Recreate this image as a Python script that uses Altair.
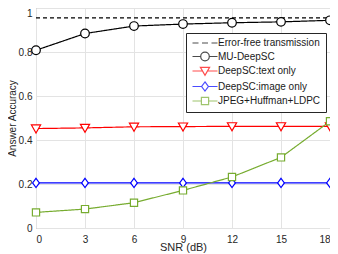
import altair as alt
import pandas as pd

snr = [0, 3, 6, 9, 12, 15, 18]
error_free = [0.955, 0.955, 0.955, 0.955, 0.955, 0.955, 0.955]
mu_deepsc = [0.808, 0.884, 0.918, 0.927, 0.933, 0.937, 0.944]
text_only = [0.452, 0.455, 0.460, 0.461, 0.462, 0.462, 0.462]
image_only = [0.205, 0.205, 0.205, 0.205, 0.205, 0.205, 0.205]
jpeg = [0.071, 0.086, 0.115, 0.171, 0.232, 0.321, 0.485]

series_names = ["Error-free transmission", "MU-DeepSC", "DeepSC:text only",
                "DeepSC:image only", "JPEG+Huffman+LDPC"]
series_values = [error_free, mu_deepsc, text_only, image_only, jpeg]

rows = []
for name, vals in zip(series_names, series_values):
    for s, v in zip(snr, vals):
        rows.append({"snr": s, "acc": v, "series": name})
df = pd.DataFrame(rows)

# styles
colors = ["#000000", "#000000", "#ff0000", "#0000ff", "#77ac30"]
dashes = [[4, 3], [1, 0], [1, 0], [1, 0], [1, 0]]
marker_paths = {
    "MU-DeepSC": "M4.3,0A4.3,4.3,0,1,1,-4.3,0A4.3,4.3,0,1,1,4.3,0Z",
    "DeepSC:text only": "M-4.6,-3.6L4.6,-3.6L0,4.4Z",
    "DeepSC:image only": "M0,-4.6L3.4,0L0,4.6L-3.4,0Z",
    "JPEG+Huffman+LDPC": "M-3.6,-3.6H3.6V3.6H-3.6Z",
}
marker_series = series_names[1:]
marker_range = [marker_paths[n] for n in marker_series]

half = 12.5
gaps = {"MU-DeepSC": 4.3, "DeepSC:text only": 3.0,
        "DeepSC:image only": 3.4, "JPEG+Huffman+LDPC": 3.6}
dashed_symbol = "M-12.5,0H-6.5M-3,0H3M6.5,0H12.5"
legend_range = [dashed_symbol] + [
    f"M-{half},0H-{gaps[n]}M{gaps[n]},0H{half}" + marker_paths[n]
    for n in marker_series
]

FONT = "Liberation Sans"
PLOT_LEFT = 36

legend = alt.Legend(
    title=None,
    orient="none",
    legendX=186 - PLOT_LEFT,
    legendY=25,
    symbolSize=4,
    symbolOffset=9,
    labelOffset=8,
    symbolStrokeWidth=1.2,
    labelFont=FONT,
    labelFontSize=10,
    labelColor="#1a1a1a",
    rowPadding=1.5,
    padding=5,
    fillColor="#ffffff",
    strokeColor="#262626",
)

x_enc = alt.X("snr:Q", scale=alt.Scale(domain=[0, 18], nice=False),
              axis=alt.Axis(values=snr, title="SNR (dB)", titleY=19,
                            titleBaseline="middle", titleFontSize=11))
y_enc = alt.Y("acc:Q", scale=alt.Scale(domain=[0, 1], nice=False),
              axis=alt.Axis(values=[0, 0.2, 0.4, 0.6, 0.8, 1], format="~g",
                            title="Answer Accuracy", titleX=12 - PLOT_LEFT,
                            titleBaseline="middle", labelPadding=4,
                            labelBaseline={"condition": {"test": "datum.value === 1",
                                                         "value": "top"},
                                           "value": "middle"}))

color_scale = alt.Scale(domain=series_names, range=colors)
dash_scale = alt.Scale(domain=series_names, range=dashes)

lines = alt.Chart(df).mark_line(strokeWidth=1.2).encode(
    x=x_enc,
    y=y_enc,
    color=alt.Color("series:N", scale=color_scale, legend=legend),
    strokeDash=alt.StrokeDash("series:N", scale=dash_scale, legend=None),
)

# carries the legend symbols only (no rows drawn)
legend_carrier = alt.Chart(df).transform_filter("false").mark_point(
    filled=False, size=4
).encode(
    x=x_enc,
    y=y_enc,
    color=alt.Color("series:N", scale=color_scale, legend=legend),
    shape=alt.Shape("series:N",
                    scale=alt.Scale(domain=series_names, range=legend_range),
                    legend=legend),
)

points = alt.Chart(df).transform_filter(
    alt.FieldOneOfPredicate(field="series", oneOf=marker_series)
).mark_point(filled=False, fill="#ffffff", fillOpacity=1, strokeWidth=1.2, size=4,
             opacity=1).encode(
    x=x_enc,
    y=y_enc,
    color=alt.Color("series:N", scale=color_scale, legend=None),
    shape=alt.Shape("series:N",
                    scale=alt.Scale(domain=marker_series, range=marker_range),
                    legend=None),
)

inner = alt.layer(lines, legend_carrier)

chart = alt.layer(inner, points).resolve_scale(
    shape="independent", color="independent"
).properties(
    width=330 - PLOT_LEFT,
    height=220,
    autosize=alt.AutoSizeParams(type="none"),
    padding={"left": PLOT_LEFT - 8, "top": 0, "right": 0, "bottom": 26},
).configure_view(
    stroke="#9a9a9a", strokeWidth=1
).configure_axis(
    domain=False,
    ticks=False,
    grid=True,
    gridColor="#e3e3e3",
    gridWidth=1,
    labelFont=FONT,
    labelFontSize=10,
    labelColor="#262626",
    labelPadding=6,
    titleFont=FONT,
    titleFontSize=10,
    titleFontWeight="normal",
    titleColor="#262626",
)

chart.save("out.html", embed_options={"renderer": "svg", "actions": False})
